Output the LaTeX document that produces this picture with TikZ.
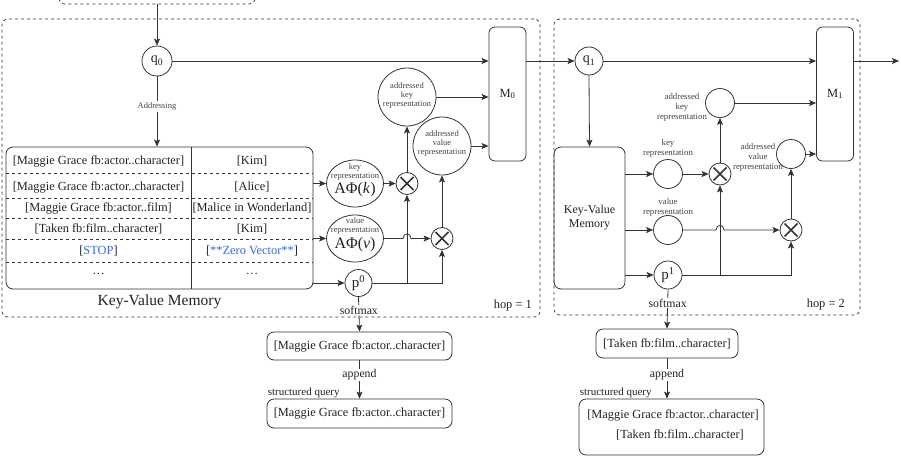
\documentclass[tikz,border=0pt]{standalone}
\usepackage{fontspec}
\setmainfont{Liberation Serif}
\usetikzlibrary{positioning,arrows.meta,shapes.geometric,calc}
\definecolor{linegray}{HTML}{333333}
\definecolor{textgray}{HTML}{222222}
\definecolor{stopblue}{HTML}{3A68D8}

\begin{document}
\begin{tikzpicture}[
    x=1pt, y=-1pt,
    every node/.style={text=textgray},
    hopbox/.style={draw=linegray, dashed, rounded corners=6pt, line width=0.7pt},
    memcell/.style={font=\fontsize{12.4}{14}\selectfont, inner sep=0pt},
    nodecirc/.style={circle, draw=linegray, line width=0.8pt, inner sep=0pt, minimum size=#1},
    repell/.style={ellipse, draw=linegray, line width=0.8pt, inner sep=0pt,
                   minimum width=57pt, minimum height=47pt},
    multnode/.style={circle, draw=linegray, line width=0.8pt, inner sep=0pt, minimum size=22pt,
        path picture={\draw[line width=1.6pt]
            ([shift={(-6.5pt,-6.5pt)}]path picture bounding box.center) -- ([shift={(6.5pt,6.5pt)}]path picture bounding box.center)
            ([shift={(-6.5pt,6.5pt)}]path picture bounding box.center) -- ([shift={(6.5pt,-6.5pt)}]path picture bounding box.center);}},
    mbox/.style={draw=linegray, line width=0.8pt, rounded corners=6pt, minimum width=37pt,
                 minimum height=134pt, font=\fontsize{12.5}{13}\selectfont},
    resbox/.style={draw=linegray, line width=0.8pt, rounded corners=7pt, font=\fontsize{12.4}{14}\selectfont},
    replbl/.style={font=\fontsize{8.5}{9}\selectfont, align=center, inner sep=0pt, text=textgray!85},
    midlbl/.style={font=\fontsize{11.8}{13}\selectfont, fill=white, inner sep=1pt},
    arrow/.style={-{Stealth[length=7pt,width=6pt,inset=1.5pt]}, draw=linegray, line width=0.8pt},
    plain/.style={draw=linegray, line width=0.8pt},
]
\useasboundingbox (0,0) rectangle (901,458);
\clip (0,0) rectangle (901,458);

% Outer boxes
\node[hopbox, minimum width=196pt, minimum height=40pt] (inbox) at (157,-16) {};
\node[hopbox, minimum width=538pt, minimum height=298pt] (hopone) at (271,168) {};
\node[hopbox, minimum width=306pt, minimum height=296pt] (hoptwo) at (707,167) {};

% ---- hop 1 ----
\node[nodecirc=30pt, font=\fontsize{14}{14}\selectfont] (qzero) at (157,61) {q\textsubscript{0}};
\node[mbox] (mzero) at (507.5,94) {M\textsubscript{0}};

% Key-value table
\node[draw=linegray, line width=0.8pt, rounded corners=7pt, minimum width=307pt,
      minimum height=142pt, inner sep=0pt] (kvtab) at (159.5,218) {};
\draw[plain] (191,147) -- (191,289);
\foreach \y in {173,198,218,239,262}
  \draw[plain, dashed] (6,\y) -- (313,\y);
\foreach \kcell/\vcell/\y [count=\i] in {
    {[Maggie Grace fb:actor..character]}/{[Kim]}/161,
    {[Maggie Grace fb:actor..character]}/{[Alice]}/187,
    {[Maggie Grace fb:actor..film]}/{[Malice in Wonderland]}/208,
    {[Taken fb:film..character]}/{[Kim]}/229,
    {[\textcolor{stopblue}{STOP}]}/{[\textcolor{stopblue}{**Zero Vector**}]}/251,
    {…}/{…}/274}
{
  \node[memcell] (kcell\i) at (98.5,\y) {\kcell};
  \node[memcell] (vcell\i) at (252,\y) {\vcell};
}
\node[font=\fontsize{15.5}{16}\selectfont, below=2pt of kvtab] (kvlabel) {Key-Value Memory};

% Representations
\node[repell] (krep) at (355,183.5) {};
\node[replbl] (kreplbl) at (355,171.5) {key\\representation};
\node[font=\fontsize{16}{16}\selectfont, inner sep=0pt] (kphi) at (355,190) {AΦ(\textit{k})};
\node[repell] (vrep) at (355,238.5) {};
\node[replbl] (vreplbl) at (355,226) {value\\representation};
\node[font=\fontsize{16}{16}\selectfont, inner sep=0pt] (vphi) at (355,245) {AΦ(\textit{v})};
\node[nodecirc=27pt, font=\fontsize{15}{15}\selectfont] (pzero) at (358.5,283) {p\textsuperscript{0}};

\node[multnode] (xkeyone) at (407,183.5) {};
\node[multnode] (xvalone) at (442,238.5) {};
\node[nodecirc=58pt] (akeyone) at (407,97) {};
\node[replbl] (akeylblone) at (407,95) {addressed\\key\\representation};
\node[nodecirc=58pt] (avalone) at (442,146) {};
\node[replbl] (avallblone) at (442,143) {addressed\\value\\representation};

\draw[arrow] (inbox.south) -- (qzero.north);
\draw[arrow] (qzero.south) -- node[replbl, fill=white, inner sep=1.5pt, pos=0.43] (addrlbl) {Addressing} (kvtab.north -| qzero);
\draw[arrow] (qzero.east) -- (mzero.west |- qzero);
\draw[arrow] (kvtab.east |- krep) -- (krep.west);
\draw[arrow] (kvtab.east |- vrep) -- (vrep.west);
\draw[arrow] (kvtab.east |- pzero) -- (pzero.west);
\draw[arrow] (krep.east) -- (xkeyone.west);
\draw[arrow] (vrep.east) -- ($(vrep.east -| xkeyone)+(-4,0)$) .. controls +(0,-6) and +(0,-6) .. ($(vrep.east -| xkeyone)+(4,0)$) -- (xvalone.west);
\draw[arrow] (pzero.east) -| (xvalone.south);
\draw[arrow] (pzero.east -| xkeyone) -- (xkeyone.south);
\draw[arrow] (xkeyone.north) -- (akeyone.south);
\draw[arrow] (xvalone.north) -- (avalone.south);
\draw[arrow] (akeyone.east) -- (mzero.west |- akeyone);
\draw[arrow] (avalone.east) -- (mzero.west |- avalone);
\node[font=\fontsize{12.4}{13}\selectfont, anchor=south east] (hoplblone) at ($(hopone.south east)+(-5,-3)$) {hop = 1};

% Results of hop 1
\node[resbox, minimum width=185pt, minimum height=28pt] (resone) at (359.5,346) {[Maggie Grace fb:actor..character]};
\node[resbox, minimum width=185pt, minimum height=29pt] (sqone) at (359.5,413.5) {[Maggie Grace fb:actor..character]};
\draw[arrow] (pzero.south) -- node[midlbl, pos=0.38] (smone) {softmax} (resone.north);
\draw[arrow] (resone.south) -- node[midlbl, pos=0.385] (apone) {append} (sqone.north);
\node[anchor=south west, inner sep=1pt, font=\fontsize{11}{12}\selectfont] (sqlblone) at (sqone.north west) {structured query};

% ---- hop 2 ----
\node[nodecirc=28pt, font=\fontsize{14}{14}\selectfont] (qone) at (589,61) {q\textsubscript{1}};
\node[mbox] (mone) at (835,94) {M\textsubscript{1}};
\node[draw=linegray, line width=0.8pt, rounded corners=7pt, minimum width=71pt, minimum height=142pt,
      align=center, font=\fontsize{12}{14}\selectfont] (kvmem) at (589.5,218) {Key-Value\\Memory};

\node[nodecirc=29pt] (kreptwo) at (668,174) {};
\node[replbl, font=\fontsize{8.8}{10}\selectfont] (kreplbltwo) at (668,148) {key\\representation};
\node[nodecirc=29pt] (vreptwo) at (668,230) {};
\node[replbl, font=\fontsize{8.8}{10}\selectfont] (vreplbltwo) at (668,207) {value\\representation};
\node[nodecirc=28pt, font=\fontsize{15}{15}\selectfont] (pone) at (668,275) {p\textsuperscript{1}};

\node[multnode] (xkeytwo) at (720,174) {};
\node[multnode] (xvaltwo) at (791,230) {};
\node[nodecirc=29pt] (akeytwo) at (720,103) {};
\node[replbl, font=\fontsize{8.8}{10}\selectfont] (akeylbltwo) at (682,107) {addressed\\key\\representation};
\node[nodecirc=29pt] (avaltwo) at (791,154) {};
\node[replbl, font=\fontsize{8.8}{10}\selectfont] (avallbltwo) at (758,157) {addressed\\value\\representation};

\draw[arrow] (mzero.east |- qzero) -- (qone.west);
\draw[arrow] (qone.east) -- (mone.west |- qone);
\draw[arrow] (qone.south) -- (kvmem.north);
\draw[arrow] (kvmem.east |- kreptwo) -- (kreptwo.west);
\draw[arrow] (kvmem.east |- vreptwo) -- (vreptwo.west);
\draw[arrow] (kvmem.east |- pone) -- (pone.west);
\draw[arrow] (kreptwo.east) -- (xkeytwo.west);
\draw[arrow] (vreptwo.east) -- ($(vreptwo.east -| xkeytwo)+(-4,0)$) .. controls +(0,-6) and +(0,-6) .. ($(vreptwo.east -| xkeytwo)+(4,0)$) -- (xvaltwo.west);
\draw[arrow] (pone.east) -| (xvaltwo.south);
\draw[arrow] (pone.east -| xkeytwo) -- (xkeytwo.south);
\draw[arrow] (xkeytwo.north) -- (akeytwo.south);
\draw[arrow] (xvaltwo.north) -- (avaltwo.south);
\draw[arrow] (akeytwo.east) -- (mone.west |- akeytwo);
\draw[arrow] (avaltwo.east) -- (mone.west |- avaltwo);
\coordinate (out) at (899,61);
\draw[arrow] (mone.east |- qone) -- (out);
\node[font=\fontsize{12.4}{13}\selectfont, anchor=south east] (hoplbltwo) at ($(hoptwo.south east)+(-12,-2)$) {hop = 2};

% Results of hop 2
\node[resbox, minimum width=142pt, minimum height=29pt] (restwo) at (667,343.5) {[Taken fb:film..character]};
\node[resbox, minimum width=185pt, minimum height=56pt] (sqtwo) at (671.5,427) {};
\node[memcell] (sqtwoa) at (673,415) {[Maggie Grace fb:actor..character]};
\node[memcell] (sqtwob) at (680,435) {[Taken fb:film..character]};
\draw[arrow] (pone.south) -- node[midlbl, pos=0.35] (smtwo) {softmax} (restwo.north);
\draw[arrow] (restwo.south) -- node[midlbl, pos=0.41] (aptwo) {append} (restwo.south |- sqtwo.north);
\node[anchor=south west, inner sep=1pt, font=\fontsize{11}{12}\selectfont] (sqlbltwo) at (sqtwo.north west) {structured query};

\end{tikzpicture}
\end{document}
